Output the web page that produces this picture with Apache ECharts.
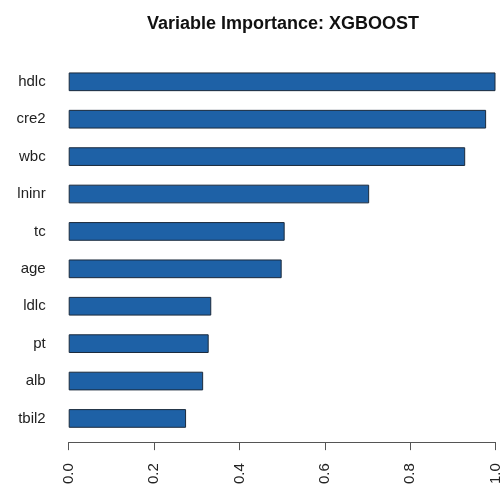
<!DOCTYPE html>
<html>
<head>
<meta charset="utf-8">
<script src="https://cdn.jsdelivr.net/npm/echarts@6/dist/echarts.min.js"></script>
<style>html,body{margin:0;padding:0;background:#fff;overflow:hidden;}#c{width:503px;height:487px;}</style>
</head>
<body>
<div id="c"></div>
<script>
const categories = ["hdlc", "cre2", "wbc", "lninr", "tc", "age", "ldlc", "pt", "alb", "tbil2"];
const importance = [1.0, 0.978, 0.929, 0.704, 0.506, 0.499, 0.334, 0.328, 0.315, 0.275];
const xTicks = [0, 0.2, 0.4, 0.6, 0.8, 1.0];

const chart = echarts.init(document.getElementById('c'), null, {renderer: 'canvas'});
chart.setOption({
  animation: false,
  backgroundColor: '#ffffff',
  title: {
    text: 'Variable Importance: XGBOOST',
    left: 142,
    top: 10,
    textStyle: {fontFamily: 'Liberation Sans', fontSize: 18, fontWeight: 'bold', color: '#111'}
  },
  grid: {left: 68.7, right: 3.7, top: 63.1, bottom: 46.1, containLabel: false},
  xAxis: {
    type: 'value',
    min: xTicks[0],
    max: xTicks[xTicks.length - 1],
    interval: 0.2,
    offset: 5,
    splitLine: {show: false},
    axisLine: {show: true, lineStyle: {color: '#555', width: 1}},
    axisTick: {show: true, length: 8, lineStyle: {color: '#555', width: 1}},
    axisLabel: {
      rotate: 90,
      margin: 21,
      fontFamily: 'Liberation Sans',
      fontSize: 15,
      color: '#222',
      formatter: v => v.toFixed(1)
    }
  },
  yAxis: {
    type: 'category',
    data: categories,
    inverse: true,
    axisLine: {show: false},
    axisTick: {show: false},
    splitLine: {show: false},
    axisLabel: {margin: 23, fontFamily: 'Liberation Sans', fontSize: 15, color: '#222'}
  },
  series: [{
    type: 'bar',
    data: importance,
    barWidth: '50%',
    itemStyle: {color: '#1e61a6', borderColor: '#1b2a3c', borderWidth: 1}
  }]
});
</script>
</body>
</html>
